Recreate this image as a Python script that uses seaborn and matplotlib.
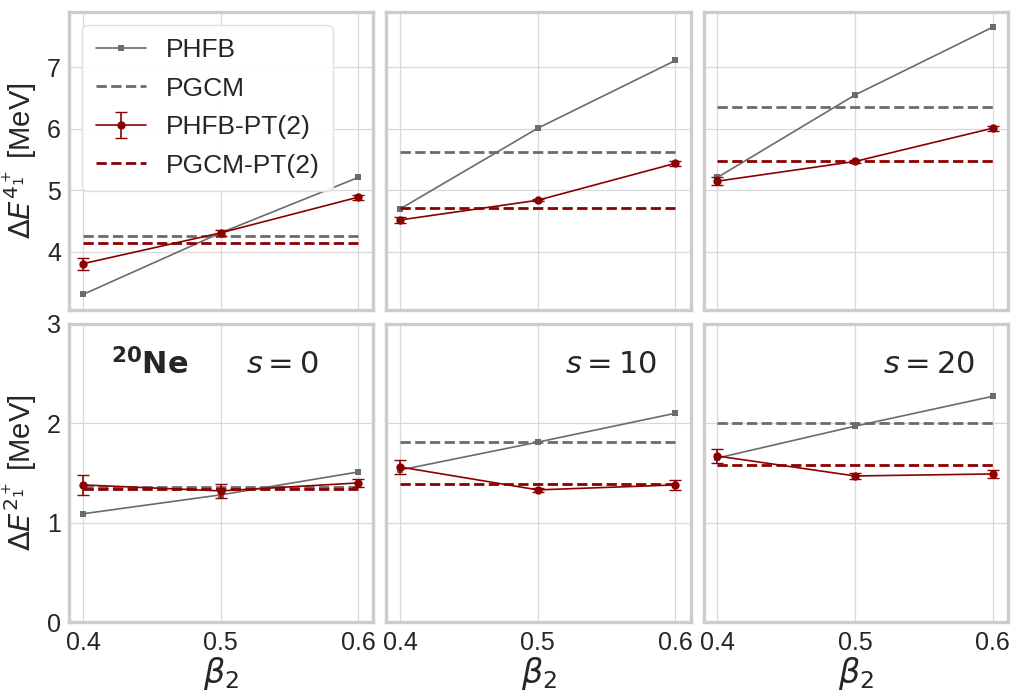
import numpy as np
import pandas as pd
import matplotlib
matplotlib.use("Agg")
import matplotlib.pyplot as plt
import seaborn as sns

# deformation values
beta2 = [0.4, 0.5, 0.6]
s_values = [0, 10, 20]

# 4_1^+ excitation energies (MeV), one list per s
phfb_4 = [[3.31, 4.31, 5.21], [4.70, 6.01, 7.11], [5.21, 6.55, 7.65]]
pgcm_4 = [4.26, 5.63, 6.35]
pt2_4 = [[3.81, 4.31, 4.89], [4.52, 4.84, 5.44], [5.15, 5.47, 6.01]]
pt2_4_err = [[0.10, 0.05, 0.04], [0.05, 0.02, 0.04], [0.06, 0.02, 0.04]]
pgcmpt2_4 = [4.14, 4.72, 5.47]

# 2_1^+ excitation energies (MeV)
phfb_2 = [[1.09, 1.28, 1.51], [1.53, 1.81, 2.10], [1.65, 1.97, 2.27]]
pgcm_2 = [1.36, 1.81, 2.00]
pt2_2 = [[1.38, 1.32, 1.40], [1.56, 1.33, 1.38], [1.67, 1.47, 1.49]]
pt2_2_err = [[0.10, 0.07, 0.04], [0.07, 0.02, 0.05], [0.07, 0.03, 0.04]]
pgcmpt2_2 = [1.34, 1.39, 1.58]

GRAY = "#6b6b6b"
RED = "#8b0000"

sns.set_style("whitegrid")
plt.rcParams["font.family"] = ["Liberation Sans", "DejaVu Sans"]
plt.rcParams["mathtext.fontset"] = "dejavusans"

fig, axes = plt.subplots(2, 3, figsize=(10.18, 6.93), dpi=100, sharex=True, sharey="row")
fig.subplots_adjust(left=0.068, right=0.990, top=0.983, bottom=0.102, wspace=0.043, hspace=0.044)

rows = [
    (phfb_4, pgcm_4, pt2_4, pt2_4_err, pgcmpt2_4),
    (phfb_2, pgcm_2, pt2_2, pt2_2_err, pgcmpt2_2),
]

for r, (phfb, pgcm, pt2, pt2err, pgcmpt2) in enumerate(rows):
    for c in range(3):
        ax = axes[r, c]
        df = pd.DataFrame({"beta2": beta2, "E": phfb[c]})
        sns.lineplot(data=df, x="beta2", y="E", ax=ax, color=GRAY, marker="s",
                     markersize=5, markeredgewidth=0, linewidth=1.2, label="PHFB")
        ax.hlines(pgcm[c], beta2[0], beta2[-1], colors=GRAY, linestyles="--",
                  linewidth=2, label="PGCM")
        ax.errorbar(beta2, pt2[c], yerr=pt2err[c], color=RED, marker="o",
                    markersize=5, linewidth=1.2, capsize=4, elinewidth=1.2,
                    label="PHFB-PT(2)")
        ax.hlines(pgcmpt2[c], beta2[0], beta2[-1], colors=RED, linestyles="--",
                  linewidth=2, label="PGCM-PT(2)")
        if ax.get_legend() is not None:
            ax.get_legend().remove()
        for sp in ax.spines.values():
            sp.set_color("#cccccc")
            sp.set_linewidth(2.4)
        ax.grid(True, color="#d9d9d9", linewidth=0.9)
        ax.tick_params(labelsize=18, colors="#262626", length=0, pad=6)
        ax.set_xlabel("")
        ax.set_ylabel("")

axes[0, 0].set_ylim(3.05, 7.9)
axes[0, 0].set_yticks([4, 5, 6, 7])
axes[1, 0].set_ylim(0, 3)
axes[1, 0].set_yticks([0, 1, 2, 3])
axes[1, 0].set_xlim(0.39, 0.611)
axes[1, 0].set_xticks([0.4, 0.5, 0.6])
axes[1, 0].set_xticklabels(["0.4", "0.5", "0.6"])

axes[0, 0].set_ylabel(r"$\Delta E^{4_1^+}$ [MeV]", fontsize=21, labelpad=6)
axes[1, 0].set_ylabel(r"$\Delta E^{2_1^+}$ [MeV]", fontsize=21, labelpad=6)
for c in range(3):
    axes[1, c].set_xlabel(r"$\beta_2$", fontsize=24, labelpad=0)

# legend in the reference order
handles, labels = axes[0, 0].get_legend_handles_labels()
order = ["PHFB", "PGCM", "PHFB-PT(2)", "PGCM-PT(2)"]
hmap = dict(zip(labels, handles))
axes[0, 0].legend([hmap[k] for k in order], order, loc="upper left",
                  fontsize=19, frameon=True, framealpha=0.9,
                  edgecolor="#dddddd", handlelength=1.9, borderpad=0.5,
                  labelspacing=0.55, handletextpad=0.75)

axes[1, 0].text(0.265, 0.86, r"$\mathbf{^{20}Ne}$", transform=axes[1, 0].transAxes,
                ha="center", va="center", fontsize=22, color="#262626")
text_pos = [(0.70, 0.86), (0.74, 0.86), (0.74, 0.86)]
for c, s in enumerate(s_values):
    axes[1, c].text(text_pos[c][0], text_pos[c][1], rf"$s = {s}$",
                    transform=axes[1, c].transAxes, ha="center", va="center",
                    fontsize=22, color="#262626")

fig.savefig("out.png", dpi=100)
